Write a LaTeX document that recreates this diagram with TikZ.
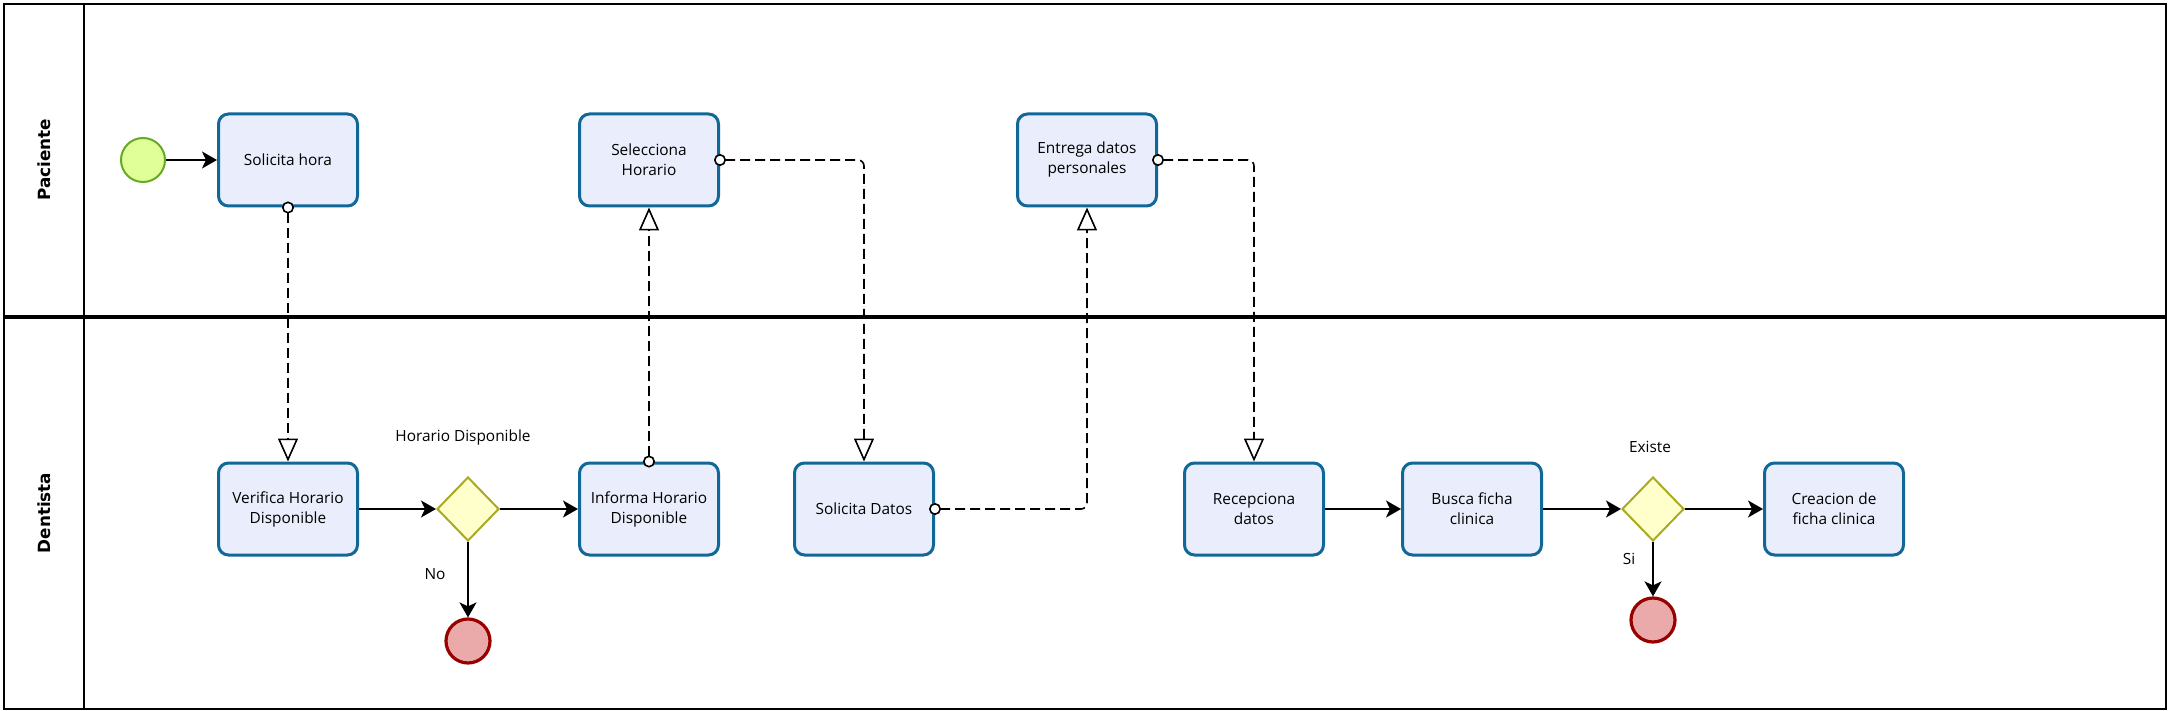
\documentclass[tikz,border=0pt]{standalone}
\usepackage{fontspec}
\setmainfont{Open Sans}
\newfontfamily\lanefont{DejaVu Sans}
\usetikzlibrary{arrows.meta,shapes.geometric}
\definecolor{taskline}{RGB}{16,104,153}
\definecolor{taskfill}{RGB}{234,238,252}
\definecolor{gateline}{RGB}{170,170,34}
\definecolor{gatefill}{RGB}{255,255,204}
\definecolor{startline}{RGB}{102,170,34}
\definecolor{startfill}{RGB}{224,255,153}
\definecolor{endline}{RGB}{153,0,0}
\definecolor{endfill}{RGB}{235,170,170}
\begin{document}
\begin{tikzpicture}[x=0.5pt, y=-0.5pt, font=\fontsize{7.7}{10}\selectfont,
  task/.style = {draw=taskline, fill=taskfill, line width=1.5pt, rounded corners=5pt, minimum width=69.5pt, minimum height=46pt, align=center, inner sep=0pt},
  gate/.style = {draw=gateline, fill=gatefill, diamond, line width=1pt, minimum width=31pt, minimum height=32pt, inner sep=0pt},
  startev/.style = {draw=startline, fill=startfill, circle, line width=1pt, minimum size=22pt, inner sep=0pt},
  endev/.style = {draw=endline, fill=endfill, circle, line width=1.6pt, minimum size=22pt, inner sep=0pt},
  seq/.style = {line width=1pt, -{Stealth[length=7.5pt, width=8.5pt, inset=2pt]}},
  msg/.style = {line width=0.8pt, dash pattern=on 5pt off 2.5pt, rounded corners=3pt, shorten <=-3pt, {Circle[length=6pt, width=6pt, fill=white]}-{Triangle[length=11.5pt, width=10pt, fill=white]}},
  lane/.style = {font=\lanefont\bfseries\fontsize{8.4}{10}\selectfont, rotate=90}]
\useasboundingbox (0,0) rectangle (2169,711);
\fill[white] (0,0) rectangle (2169,711);
% pool and lanes
\draw[line width=1pt] (4,4) rectangle (2166,709);
\draw[line width=0.6pt] (84,4) -- (84,709);
\draw[line width=1.6pt] (4,317) -- (2166,317);
\node[lane] (paciente) at (44,160) {Paciente};
\node[lane] (dentista) at (44,513) {Dentista};
% Paciente
\node[startev] (inicio) at (143,160) {};
\node[task] (solhora) at (288,160) {Solicita hora};
\node[task] (selhor) at (649,160) {Selecciona\\Horario};
\node[task] (entrega) at (1087,160) {Entrega datos\\personales};
% Dentista
\node[task] (verifica) at (288,509) {Verifica Horario\\Disponible};
\node[gate] (gw1) at (468,509) {};
\node[task] (informa) at (649,509) {Informa Horario\\Disponible};
\node[endev] (fin1) at (468,641) {};
\node[task] (soldatos) at (864,509) {Solicita Datos};
\node[task] (recep) at (1254,509) {Recepciona\\datos};
\node[task] (busca) at (1472,509) {Busca ficha\\clinica};
\node[gate] (gw2) at (1653,509) {};
\node[task] (creacion) at (1834,509) {Creacion de\\ficha clinica};
\node[endev] (fin2) at (1653,620) {};
% labels
\node (lblgw1) at (463,437) {Horario Disponible};
\node (lblno) at (435,574) {No};
\node (lblgw2) at (1650,447) {Existe};
\node (lblsi) at (1629,559) {Si};
% sequence flows
\draw[seq] (inicio) -- (solhora);
\draw[seq] (verifica) -- (gw1);
\draw[seq] (gw1) -- (informa);
\draw[seq] (gw1) -- (fin1);
\draw[seq] (recep) -- (busca);
\draw[seq] (busca) -- (gw2);
\draw[seq] (gw2) -- (creacion);
\draw[seq] (gw2) -- (fin2);
% message flows
\draw[msg] (solhora.south) -- (verifica.north);
\draw[msg] (informa.north) -- (selhor.south);
\draw[msg] (selhor.east) -| (soldatos.north);
\draw[msg] (soldatos.east) -| (entrega.south);
\draw[msg] (entrega.east) -| (recep.north);
\end{tikzpicture}
\end{document}
